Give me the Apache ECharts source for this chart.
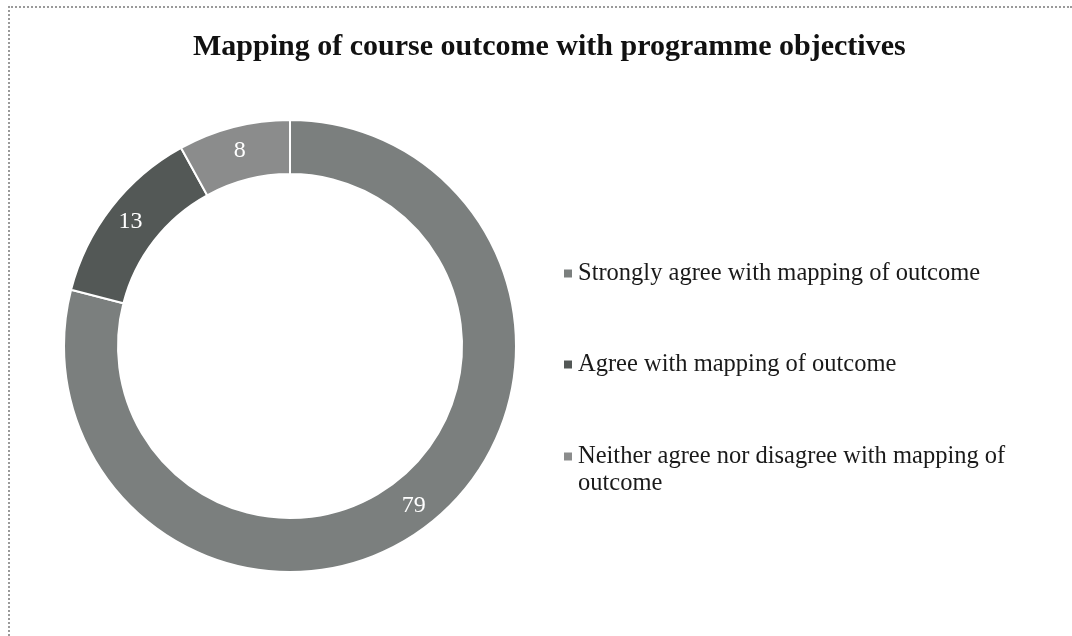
<!DOCTYPE html>
<html>
<head>
<meta charset="utf-8">
<script src="https://cdn.jsdelivr.net/npm/echarts@6/dist/echarts.min.js"></script>
<style>
html,body{margin:0;padding:0;background:#fff;}
#frame{position:absolute;left:8px;top:6px;width:1064px;height:630px;border-left:2px dotted #9a9a9a;border-top:2px dotted #9a9a9a;box-sizing:border-box;}
#chart{position:absolute;left:0;top:0;width:1072px;height:636px;}
</style>
</head>
<body>
<div id="frame"></div>
<div id="chart"></div>
<script>
const titleText = 'Mapping of course outcome with programme objectives';
const categories = [
  'Strongly agree with mapping of outcome',
  'Agree with mapping of outcome',
  'Neither agree nor disagree with mapping of outcome'
];
const legendLabels = [
  'Strongly agree with mapping of outcome',
  'Agree with mapping of outcome',
  '\nNeither agree nor disagree with mapping of\noutcome'
];
const values = [79, 13, 8];
const colors = ['#7b7f7e', '#535856', '#8b8c8c'];

const chart = echarts.init(document.getElementById('chart'));
const serif = '"Liberation Serif", "Times New Roman", serif';

function legendFor(i, top) {
  return {
    data: [categories[i]],
    left: 557,
    top: top,
    orient: 'vertical',
    icon: 'rect',
    itemWidth: 10,
    itemHeight: 10,
    selectedMode: false,
    formatter: function () { return legendLabels[i]; },
    textStyle: {
      fontFamily: serif,
      fontSize: 24.5,
      color: '#1a1a1a',
      lineHeight: 27
    }
  };
}

chart.setOption({
  animation: false,
  color: colors,
  title: {
    text: titleText,
    left: 188,
    top: 27,
    textStyle: { fontFamily: serif, fontSize: 30, fontWeight: 'bold', color: '#111' }
  },
  legend: [legendFor(0, 255), legendFor(1, 346), legendFor(2, 411)],
  series: [{
    type: 'pie',
    center: [290, 346],
    radius: [172, 226],
    startAngle: 90,
    clockwise: true,
    avoidLabelOverlap: false,
    itemStyle: { borderColor: '#fff', borderWidth: 2 },
    label: {
      show: true,
      position: 'inside',
      formatter: '{c}',
      color: '#fff',
      fontFamily: serif,
      fontSize: 24
    },
    labelLine: { show: false },
    emphasis: { disabled: true },
    data: categories.map((c, i) => ({ name: c, value: values[i] }))
  }]
});
</script>
</body>
</html>
